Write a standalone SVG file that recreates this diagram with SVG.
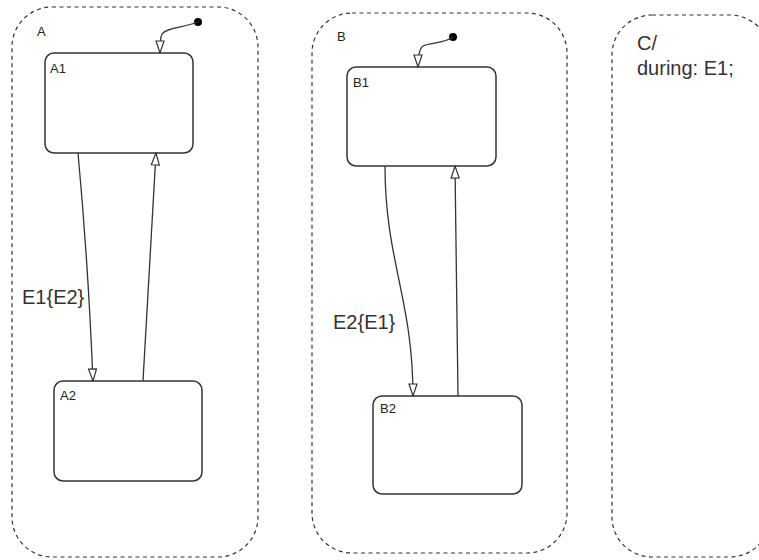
<svg xmlns="http://www.w3.org/2000/svg" width="759" height="560" viewBox="0 0 759 560">
<style>
.super{fill:none;stroke:#333;stroke-width:1.2;stroke-dasharray:4,3.5}
.state{fill:#fff;stroke:#333;stroke-width:1.5}
.small{font-family:"Liberation Sans",Arial,sans-serif;font-size:13px;fill:#222}
.big{font-family:"Liberation Sans",Arial,sans-serif;font-size:20px;fill:#333}
.tr{fill:none;stroke:#333;stroke-width:1.3;marker-end:url(#arr)}
.dot{fill:#000}
</style>
<defs>
<marker id="arr" viewBox="-1 -5 14 10" refX="12" refY="0" markerWidth="14" markerHeight="10" markerUnits="userSpaceOnUse" orient="auto">
<path d="M0,-4 L12,0 L0,4 Z" fill="#fff" stroke="#333" stroke-width="1.2"/>
</marker>
</defs>
<rect width="759" height="560" fill="#fff"/>
<g id="A">
<rect class="super" x="12" y="7" width="246" height="550" rx="40" ry="40"/>
<text class="small" x="37" y="36">A</text>
</g>
<g id="B">
<rect class="super" x="312" y="13" width="255" height="540" rx="40" ry="40"/>
<text class="small" x="337" y="41">B</text>
</g>
<g id="C">
<rect class="super" x="612" y="15" width="158" height="542" rx="40" ry="40"/>
<text class="big" x="637" y="50">C/</text>
<text class="big" x="637" y="75">during: E1;</text>
</g>
<g id="A1">
<rect class="state" x="45" y="53" width="148" height="100" rx="9" ry="9"/>
<text class="small" x="50" y="73">A1</text>
</g>
<g id="A2">
<rect class="state" x="54" y="381" width="148" height="100" rx="9" ry="9"/>
<text class="small" x="60" y="400">A2</text>
</g>
<g id="B1">
<rect class="state" x="347" y="67" width="149" height="99" rx="9" ry="9"/>
<text class="small" x="353" y="87">B1</text>
</g>
<g id="B2">
<rect class="state" x="373" y="396" width="149" height="98" rx="9" ry="9"/>
<text class="small" x="380" y="413">B2</text>
</g>
<g id="connectors">
<circle class="dot" cx="198" cy="22" r="4"/>
<path class="tr" d="M198,22 C182,28 166,28 162,34 C160,38 160,45 160,53"/>
<circle class="dot" cx="453" cy="37" r="4"/>
<path class="tr" d="M453,37 C444,44 430,42 423,46 C419,49 418,56 418,67"/>
<path class="tr" d="M78,153 Q88,260 93,381"/>
<path class="tr" d="M143,381 L156,153"/>
<path class="tr" d="M385,166 C385,260 413,300 413,396"/>
<path class="tr" d="M458,396 L455,166"/>
<text class="big" x="22" y="304">E1{E2}</text>
<text class="big" x="333" y="329">E2{E1}</text>
</g>
</svg>
